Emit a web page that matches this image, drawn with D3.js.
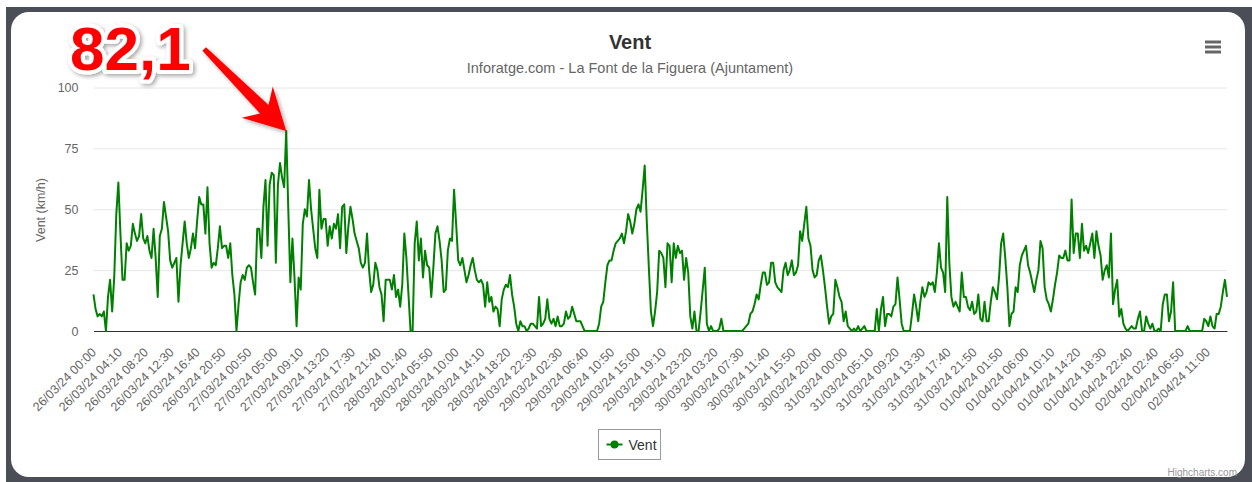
<!DOCTYPE html>
<html>
<head>
<meta charset="utf-8">
<script src="https://cdn.jsdelivr.net/npm/d3@7"></script>
<style>
  body { margin: 0; background: #fff; }
  svg { display: block; font-family: "Liberation Sans", Arial, sans-serif; }
</style>
</head>
<body>
<svg id="chart" width="1252" height="482"></svg>
<script>
// x axis labels, one every 25 categories
const tickLabels = [
  '26/03/24 00:00', '26/03/24 04:10', '26/03/24 08:20', '26/03/24 12:30', '26/03/24 16:40',
  '26/03/24 20:50', '27/03/24 00:50', '27/03/24 05:00', '27/03/24 09:10', '27/03/24 13:20',
  '27/03/24 17:30', '27/03/24 21:40', '28/03/24 01:40', '28/03/24 05:50', '28/03/24 10:00',
  '28/03/24 14:10', '28/03/24 18:20', '28/03/24 22:30', '29/03/24 02:30', '29/03/24 06:40',
  '29/03/24 10:50', '29/03/24 15:00', '29/03/24 19:10', '29/03/24 23:20', '30/03/24 03:20',
  '30/03/24 07:30', '30/03/24 11:40', '30/03/24 15:50', '30/03/24 20:00', '31/03/24 00:00',
  '31/03/24 05:10', '31/03/24 09:20', '31/03/24 13:30', '31/03/24 17:40', '31/03/24 21:50',
  '01/04/24 01:50', '01/04/24 06:00', '01/04/24 10:10', '01/04/24 14:20', '01/04/24 18:30',
  '01/04/24 22:40', '02/04/24 02:40', '02/04/24 06:50', '02/04/24 11:00',
];
const labelEvery = 25;

// wind (km/h), one reading every second category
const vent = [
  15, 9, 6, 7, 6, 8, 0, 14, 21, 8,
  22, 48, 61, 40, 21, 21, 36, 33, 35, 44,
  40, 37, 39, 48, 38, 36, 39, 33, 30, 42,
  30, 14, 39, 42, 53, 47, 41, 29, 26, 28,
  30, 12, 27, 36, 45, 36, 30, 34, 40, 34,
  45, 55, 52, 52, 40, 59, 36, 26, 28, 27,
  34, 43, 34, 35, 35, 30, 36, 23, 15, 0,
  11, 20, 23, 21, 26, 27, 26, 20, 15, 42,
  42, 30, 51, 62, 35, 60, 65, 64, 28, 60,
  69, 63, 59, 82.1, 50, 20, 38, 22, 2, 22,
  17, 44, 50, 47, 62, 50, 42, 34, 30, 58,
  42, 46, 46, 35, 43, 38, 44, 42, 48, 34,
  51, 52, 32, 43, 51, 46, 40, 37, 34, 28,
  26, 28, 40, 25, 16, 19, 28, 25, 18, 15,
  4, 21, 21, 21, 17, 23, 14, 17, 10, 19,
  40, 30, 15, 0, 0, 36, 45, 29, 38, 22,
  33, 27, 26, 14, 26, 40, 43, 37, 29, 16,
  17, 33, 38, 37, 58, 44, 29, 27, 30, 25,
  20, 23, 27, 30, 25, 21, 20, 21, 19, 10,
  20, 12, 14, 8, 10, 9, 2, 13, 17, 19,
  18, 23, 15, 10, 3, 0, 4, 2, 2, 0,
  1, 3, 3, 2, 1, 14, 2, 3, 5, 13,
  5, 3, 5, 2, 6, 2, 2, 3, 8, 5,
  6, 10, 7, 4, 4, 4, 2, 0, 0, 0,
  0, 0, 0, 0, 3, 10, 12, 20, 27, 29,
  29, 33, 36, 37, 38, 40, 36, 41, 48, 45,
  40, 44, 50, 52, 49, 58, 68, 45, 26, 8,
  2, 8, 16, 33, 32, 30, 18, 36, 35, 20,
  36, 30, 35, 32, 33, 21, 30, 24, 6, 1,
  8, 0, 0, 8, 17, 26, 3, 0, 2, 0,
  0, 0, 1, 5, 0, 0, 0, 0, 0, 0,
  0, 0, 0, 0, 1, 2, 3, 7, 8, 11,
  15, 13, 19, 24, 24, 19, 20, 28, 28, 20,
  18, 17, 16, 25, 28, 23, 25, 29, 23, 24,
  27, 41, 37, 44, 51, 38, 35, 25, 22, 23,
  29, 31, 25, 18, 10, 3, 6, 7, 21, 18,
  14, 12, 4, 8, 2, 1, 0, 1, 0, 2,
  0, 1, 2, 0, 0, 0, 0, 0, 9, 0,
  9, 14, 2, 7, 7, 6, 10, 11, 22, 13,
  3, 0, 0, 0, 0, 7, 15, 10, 4, 12,
  18, 14, 16, 20, 19, 20, 16, 24, 36, 26,
  24, 16, 55, 28, 14, 10, 12, 10, 8, 24,
  14, 14, 10, 8.5, 12, 7, 8, 15, 5, 4,
  12, 4, 4, 12, 18, 16, 13, 22, 36, 40,
  30, 18, 2, 7, 8, 18, 16, 27, 31, 33,
  35, 27, 24, 20, 16, 21, 25, 37, 34, 18,
  13, 11, 8, 13, 19, 24, 31, 30, 30, 33,
  29, 29, 54, 32, 40, 40, 30, 44, 33, 35,
  32, 36, 40, 30, 41, 35, 31, 21, 25, 27,
  22, 40, 11, 17, 21, 6, 9, 3, 1, 0,
  1, 2, 1, 1, 5, 8, 0, 0, 6, 3,
  1, 3, 0, 0, 1, 0, 11, 15, 15, 4,
  8, 20, 0, 0, 0, 0, 0, 0, 2, 0,
  0, 0, 0, 0, 0, 0, 5, 4, 2, 6,
  2, 1, 7, 7, 10, 16, 21, 14,
];
const step = 2; // categories between two readings

const yTicks = [0, 25, 50, 75, 100];

const plot = { left: 93.5, right: 1227, top: 87.5, bottom: 331 };
const green = '#008000';

const svg = d3.select('#chart');

const defs = svg.append('defs');
defs.append('filter')
  .attr('id', 'shadow')
  .attr('x', '-20%').attr('y', '-20%').attr('width', '140%').attr('height', '140%')
  .append('feDropShadow')
  .attr('dx', 2).attr('dy', 2).attr('stdDeviation', 2)
  .attr('flood-color', '#000').attr('flood-opacity', 0.35);

// Frame

svg.append('rect')
  .attr('x', 6).attr('y', 7).attr('width', 1252).attr('height', 482)
  .attr('fill', '#4b4e56');

svg.append('rect')
  .attr('x', 11).attr('y', 12).attr('width', 1234).attr('height', 465)
  .attr('rx', 18)
  .attr('fill', '#fff');

// Scales

const x = d3.scaleLinear()
  .domain([0, (vent.length - 1) * step])
  .range([plot.left, plot.right]);

const y = d3.scaleLinear()
  .domain([0, 100])
  .range([plot.bottom, plot.top]);

// Y axis with grid

const yAxis = svg.append('g')
  .attr('transform', `translate(${plot.left},0)`)
  .call(d3.axisLeft(y)
    .tickValues(yTicks)
    .tickSize(-(plot.right - plot.left))
    .tickPadding(15));

yAxis.select('.domain').remove();
yAxis.selectAll('line').attr('stroke', '#e6e6e6');
yAxis.selectAll('text')
  .attr('fill', '#666')
  .style('font-size', '12.5px');

svg.append('text')
  .attr('transform', `translate(45,210) rotate(-90)`)
  .attr('text-anchor', 'middle')
  .attr('fill', '#666')
  .style('font-size', '12.5px')
  .text('Vent (km/h)');

// X axis

const xAxis = svg.append('g')
  .attr('transform', `translate(0,${plot.bottom})`)
  .call(d3.axisBottom(x)
    .tickValues(tickLabels.map((_, i) => i * labelEvery))
    .tickFormat((_, i) => tickLabels[i])
    .tickSize(0));

xAxis.select('.domain').attr('stroke', '#333');
xAxis.selectAll('text')
  .attr('x', 0).attr('y', 0).attr('dy', 0)
  .attr('text-anchor', 'end')
  .attr('transform', 'translate(3,22) rotate(-45)')
  .attr('fill', '#666')
  .style('font-size', '12.5px');

// Series

const line = d3.line()
  .x((d, i) => x(i * step))
  .y(d => y(d));

svg.append('path')
  .datum(vent)
  .attr('fill', 'none')
  .attr('stroke', green)
  .attr('stroke-width', 2)
  .attr('stroke-linejoin', 'round')
  .attr('d', line);

// Titles

svg.append('text')
  .attr('x', 630).attr('y', 49)
  .attr('text-anchor', 'middle')
  .attr('fill', '#333')
  .style('font-size', '20px')
  .style('font-weight', 'bold')
  .text('Vent');

svg.append('text')
  .attr('x', 630).attr('y', 73)
  .attr('text-anchor', 'middle')
  .attr('fill', '#666')
  .style('font-size', '14.5px')
  .text('Inforatge.com - La Font de la Figuera (Ajuntament)');

// Menu button

svg.append('g')
  .selectAll('line')
  .data([0, 5, 10])
  .join('line')
  .attr('x1', 1205).attr('x2', 1221)
  .attr('y1', d => 42 + d).attr('y2', d => 42 + d)
  .attr('stroke', '#666')
  .attr('stroke-width', 3);

// Legend

const legend = svg.append('g').attr('transform', 'translate(598.5,429.5)');
legend.append('rect')
  .attr('width', 62).attr('height', 30)
  .attr('fill', '#fff')
  .attr('stroke', '#999');
legend.append('line')
  .attr('x1', 8).attr('x2', 24).attr('y1', 15).attr('y2', 15)
  .attr('stroke', green).attr('stroke-width', 2);
legend.append('circle')
  .attr('cx', 16).attr('cy', 15).attr('r', 4)
  .attr('fill', green);
legend.append('text')
  .attr('x', 30).attr('y', 20)
  .attr('fill', '#333')
  .style('font-size', '14px')
  .text('Vent');

// Credits

svg.append('text')
  .attr('x', 1237).attr('y', 476)
  .attr('text-anchor', 'end')
  .attr('fill', '#999')
  .style('font-size', '10px')
  .text('Highcharts.com');

// Peak annotation

const peak = d3.maxIndex(vent);
const tip = [x(peak * step), y(vent[peak])];
const dir = [Math.SQRT1_2, Math.SQRT1_2];   // pointing down-right
const perp = [Math.SQRT1_2, -Math.SQRT1_2];
const at = (along, side) => [
  tip[0] + along * dir[0] + side * perp[0],
  tip[1] + along * dir[1] + side * perp[1],
];

svg.append('path')
  .attr('d', d3.line()([
    at(0, 0), at(-41, 22), at(-31, 6), at(-116, 2.5),
    at(-116, -2.5), at(-31, -6), at(-41, -22),
  ]) + 'Z')
  .attr('fill', '#ff0000')
  .attr('filter', 'url(#shadow)');

svg.append('text')
  .attr('x', 70).attr('y', 70)
  .attr('fill', '#ff0000')
  .attr('stroke', '#fff')
  .attr('stroke-width', 8)
  .attr('stroke-linejoin', 'round')
  .attr('paint-order', 'stroke')
  .attr('filter', 'url(#shadow)')
  .style('font-size', '62px')
  .style('font-weight', 'bold')
  .text(String(vent[peak]).replace('.', ','));
</script>
</body>
</html>
